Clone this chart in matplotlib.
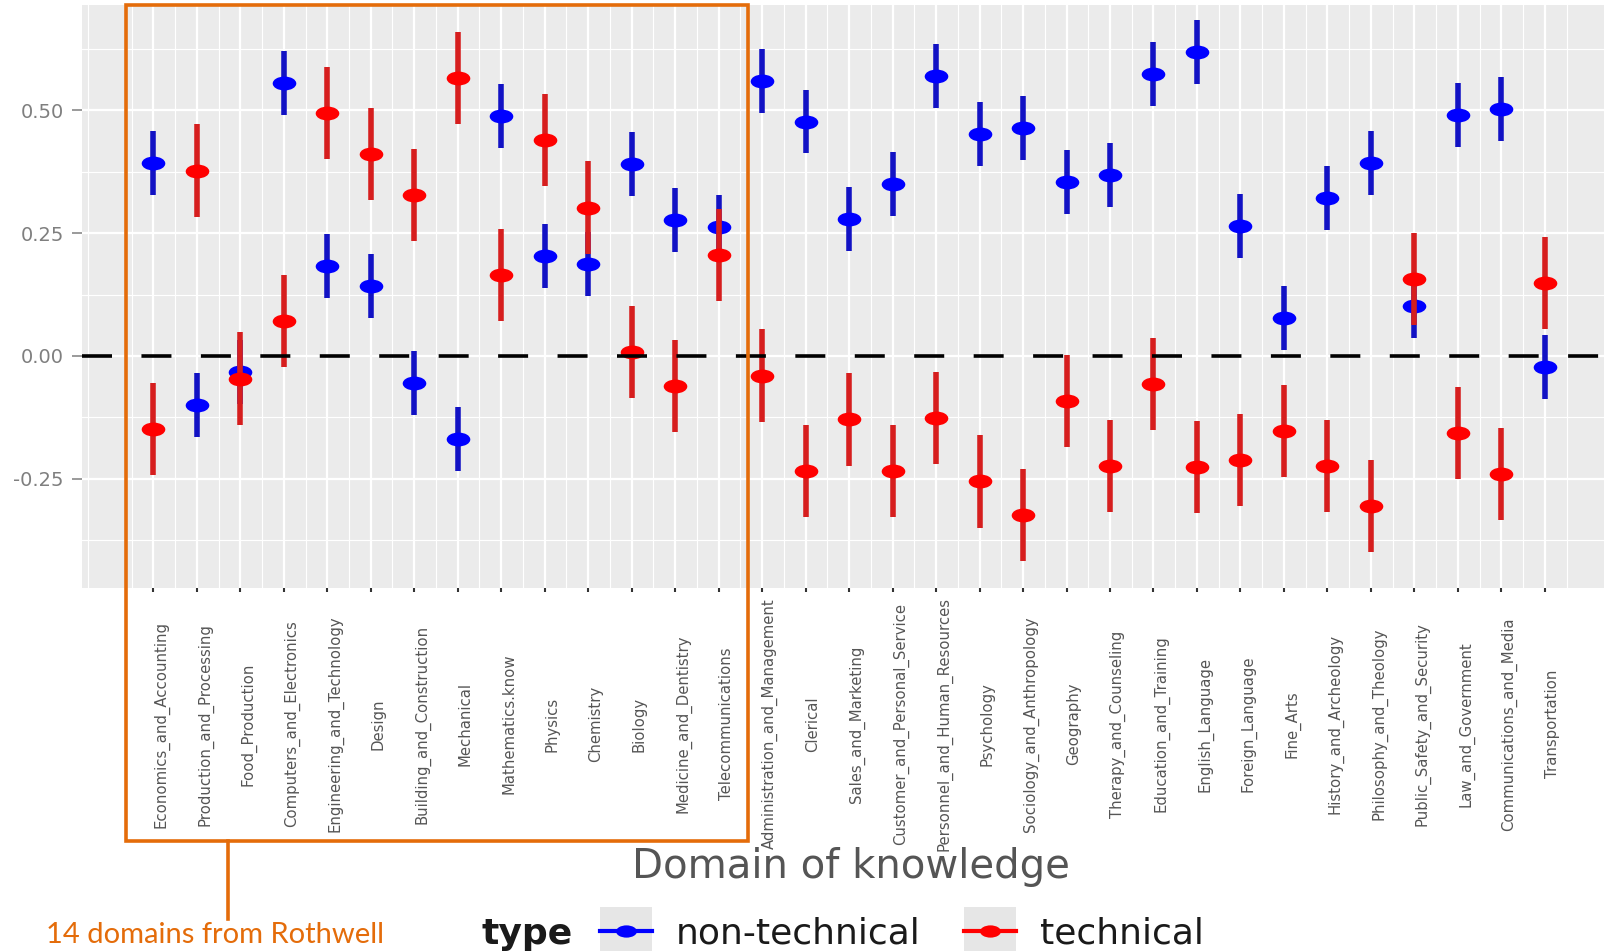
import matplotlib

matplotlib.use("Agg")

import matplotlib.pyplot as plt
from matplotlib.legend_handler import HandlerLine2D
from matplotlib.lines import Line2D
from matplotlib.markers import MarkerStyle
from matplotlib.patches import Rectangle
from matplotlib.path import Path
from matplotlib.ticker import FixedLocator, MultipleLocator
from matplotlib.transforms import Affine2D

domains = [
    "Economics_and_Accounting", "Production_and_Processing", "Food_Production",
    "Computers_and_Electronics", "Engineering_and_Technology", "Design",
    "Building_and_Construction", "Mechanical", "Mathematics.know", "Physics",
    "Chemistry", "Biology", "Medicine_and_Dentistry", "Telecommunications",
    "Administration_and_Management", "Clerical", "Sales_and_Marketing",
    "Customer_and_Personal_Service", "Personnel_and_Human_Resources", "Psychology",
    "Sociology_and_Anthropology", "Geography", "Therapy_and_Counseling",
    "Education_and_Training", "English_Language", "Foreign_Language", "Fine_Arts",
    "History_and_Archeology", "Philosophy_and_Theology", "Public_Safety_and_Security",
    "Law_and_Government", "Communications_and_Media", "Transportation",
]

# estimates
nontech_est = [
    0.393, -0.099, -0.032, 0.555, 0.183, 0.142, -0.055, -0.169, 0.488, 0.204,
    0.188, 0.390, 0.276, 0.262, 0.559, 0.477, 0.279, 0.350, 0.570, 0.452,
    0.463, 0.354, 0.369, 0.573, 0.619, 0.264, 0.078, 0.322, 0.393, 0.101,
    0.490, 0.503, -0.023,
]
nontech_err = [
    0.065, 0.065, 0.065, 0.065, 0.065, 0.065, 0.065, 0.065, 0.065, 0.065,
    0.065, 0.065, 0.065, 0.065, 0.065, 0.065, 0.065, 0.065, 0.065, 0.065,
    0.065, 0.065, 0.065, 0.065, 0.065, 0.065, 0.065, 0.065, 0.065, 0.065,
    0.065, 0.065, 0.065,
]
tech_est = [
    -0.148, 0.377, -0.046, 0.071, 0.494, 0.411, 0.328, 0.565, 0.165, 0.439,
    0.302, 0.008, -0.061, 0.205, -0.040, -0.234, -0.129, -0.234, -0.126, -0.255,
    -0.324, -0.092, -0.224, -0.057, -0.226, -0.212, -0.153, -0.224, -0.305, 0.157,
    -0.157, -0.240, 0.148,
]
tech_err = [
    0.094, 0.094, 0.094, 0.094, 0.094, 0.094, 0.094, 0.094, 0.094, 0.094,
    0.094, 0.094, 0.094, 0.094, 0.094, 0.094, 0.094, 0.094, 0.094, 0.094,
    0.094, 0.094, 0.094, 0.094, 0.094, 0.094, 0.094, 0.094, 0.094, 0.094,
    0.094, 0.094, 0.094,
]

y_ticks = [-0.25, 0.0, 0.25, 0.50]
y_tick_labels = ["-0.25", "0.00", "0.25", "0.50"]

BLUE = "#0000FF"
RED = "#FF0000"
BLUE_BAR = "#1212C4"
RED_BAR = "#D61E1E"
ORANGE = "#E46C0A"
W, H = 1604, 951

plt.rcParams["font.family"] = ["DejaVu Sans"]
plt.rcParams["lines.scale_dashes"] = False

# points in the original are squashed ovals
oval = MarkerStyle(Path.unit_circle().transformed(Affine2D().scale(1.7, 1.0)))


class KeyHandler(HandlerLine2D):
    """legend key with the grey ggplot background square"""

    def create_artists(self, legend, orig_handle, xdescent, ydescent,
                       width, height, fontsize, trans):
        bg = Rectangle((-xdescent, -ydescent - 0.45 * height), width, height * 1.9,
                       facecolor="#E6E6E6", edgecolor="none", transform=trans)
        arts = super().create_artists(legend, orig_handle, xdescent, ydescent,
                                      width, height, fontsize, trans)
        return [bg] + list(arts)


fig = plt.figure(figsize=(W / 100, H / 100), dpi=100)
ax = fig.add_axes([82 / W, 1 - 588 / H, 1 - 82 / W, 583 / H])
ax.set_facecolor("#EBEBEB")
for s in ax.spines.values():
    s.set_visible(False)

x = list(range(len(domains)))

ax.errorbar(x, nontech_est, yerr=nontech_err, fmt="none", ecolor=BLUE_BAR,
            elinewidth=4, capsize=0, zorder=3)
ax.plot(x, nontech_est, ls="none", marker=oval, ms=17, color=BLUE, mec="none", zorder=4)
ax.errorbar(x, tech_est, yerr=tech_err, fmt="none", ecolor=RED_BAR,
            elinewidth=4, capsize=0, zorder=5)
ax.plot(x, tech_est, ls="none", marker=oval, ms=17, color=RED, mec="none", zorder=6)

ax.axhline(0, color="black", lw=2.6, linestyle=(0, (21.6, 21.2)), zorder=7)

ax.set_xlim(-1.64, len(domains) - 1 + 1.36)
ax.set_ylim(-0.472, 0.714)

ax.xaxis.set_major_locator(FixedLocator(x))
ax.xaxis.set_minor_locator(MultipleLocator(1, offset=0.5))
ax.yaxis.set_major_locator(FixedLocator(y_ticks))
ax.yaxis.set_minor_locator(MultipleLocator(0.25, offset=0.125))
ax.set_yticklabels(y_tick_labels)
ax.set_xticklabels(domains, rotation=90, ha="left", va="center")

ax.grid(which="major", color="white", lw=1.6, zorder=0)
ax.grid(which="minor", color="white", lw=0.8, zorder=0)
ax.set_axisbelow(True)

ax.tick_params(axis="y", which="major", length=7, width=1.1, color="#7F7F7F",
               labelcolor="#7F7F7F", labelsize=14, pad=6)
ax.tick_params(axis="x", which="major", length=3, width=1.5, color="#333333",
               labelcolor="#555555", labelsize=10.7, pad=95)
ax.tick_params(which="minor", length=0)

ax.set_xlabel("Domain of knowledge", fontsize=29, color="#555555")
ax.xaxis.set_label_coords((851 - 82) / (W - 82), (588 - 867) / 583)
ax.xaxis.label.set_va("center")

# legend at the bottom, ggplot style
handles = [
    Line2D([], [], color=BLUE, lw=3, marker=oval, ms=15, mec="none"),
    Line2D([], [], color=RED, lw=3, marker=oval, ms=15, mec="none"),
]
fig.text(481 / W, 1 - 934 / H, "type", fontsize=26, fontweight="bold",
         color="#1A1A1A", ha="left", va="center")
fig.legend(handles, ["non-technical", "technical"], loc="center left",
           bbox_to_anchor=(600 / W, 1 - 934 / H), ncol=2, frameon=False,
           fontsize=26, labelcolor="#1A1A1A", handlelength=1.45,
           handletextpad=0.65, columnspacing=1.2, borderpad=0, borderaxespad=0,
           handler_map={Line2D: KeyHandler()})

# orange call-out box around the first 14 domains
fig.add_artist(Rectangle((126 / W, 1 - 841 / H), (748 - 126) / W, (841 - 5) / H,
                         fill=False, edgecolor=ORANGE, lw=2.6,
                         transform=fig.transFigure))
fig.add_artist(Line2D([228 / W, 228 / W], [1 - 841 / H, 1 - 919 / H],
                      color=ORANGE, lw=2.6, transform=fig.transFigure))
fig.text(46 / W, 1 - 943 / H, "14 domains from Rothwell", fontsize=21,
         family=["Lato", "DejaVu Sans"], color=ORANGE, ha="left", va="baseline")

fig.savefig("out.png", dpi=100)
